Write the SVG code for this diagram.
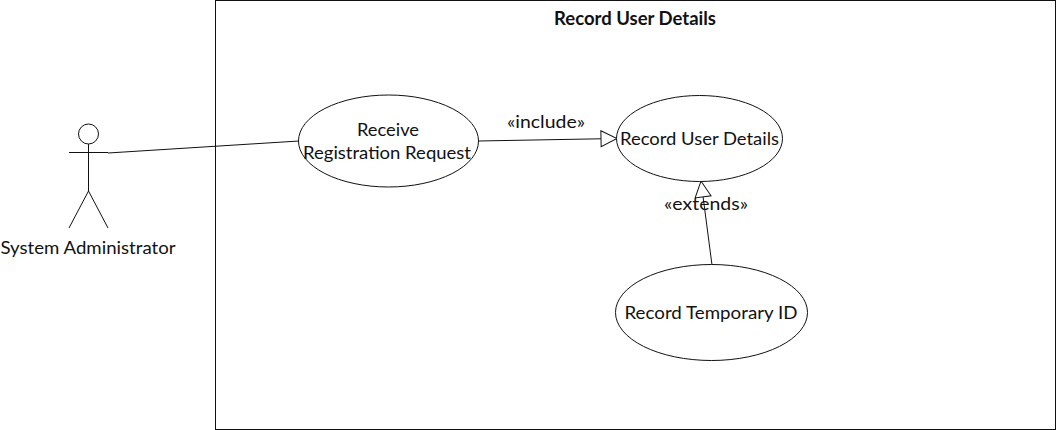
<svg xmlns="http://www.w3.org/2000/svg" width="1056" height="430" viewBox="0 0 1056 430">
<style>
.s{fill:none;stroke:#111;stroke-width:1}
.e{fill:#fff;stroke:#111;stroke-width:1}
text{font-family:Lato,"Open Sans","Liberation Sans",sans-serif;font-size:18px;fill:#111;text-anchor:middle}
</style>
<defs><marker id="tri" markerUnits="userSpaceOnUse" markerWidth="18" markerHeight="20" refX="17" refY="9" orient="auto"><path d="M1 1L17 9L1 17Z" fill="#fff" stroke="#111"/></marker></defs>
<rect width="1056" height="430" fill="#fff"/>
<g id="boundary"><rect class="s" x="215.500" y="0.500" width="840" height="429"/><text x="635" y="25" font-weight="700" textLength="162" lengthAdjust="spacingAndGlyphs">Record User Details</text></g>
<g id="connectors">
<path class="s" d="M108 153L299 141"/>
<path class="s" d="M478 141L617 138.500" marker-end="url(#tri)"/>
<path class="s" d="M712 265L701 181" marker-end="url(#tri)"/>
</g>
<g id="actor"><circle class="s" cx="88.500" cy="134" r="10"/><path class="s" d="M88.500 144V191M69 152.500H108M88.500 191L69 228M88.500 191L108 228"/><text x="88" y="254" textLength="175" lengthAdjust="spacingAndGlyphs">System Administrator</text></g>
<g id="uc-receive"><ellipse class="e" cx="388.500" cy="141" rx="90" ry="46"/><text x="388" y="136" textLength="62" lengthAdjust="spacingAndGlyphs">Receive</text><text x="387" y="159" textLength="168" lengthAdjust="spacingAndGlyphs">Registration Request</text></g>
<g id="uc-record"><ellipse class="e" cx="699.500" cy="138.500" rx="83" ry="43"/><text x="699.500" y="145" textLength="159" lengthAdjust="spacingAndGlyphs">Record User Details</text></g>
<g id="uc-temp"><ellipse class="e" cx="711.500" cy="312.500" rx="96" ry="48"/><text x="711" y="319" textLength="173" lengthAdjust="spacingAndGlyphs">Record Temporary ID</text></g>
<g id="labels"><text x="546" y="128" textLength="78" lengthAdjust="spacingAndGlyphs">«include»</text><text x="706" y="210" textLength="84" lengthAdjust="spacingAndGlyphs">«extends»</text></g>
</svg>
